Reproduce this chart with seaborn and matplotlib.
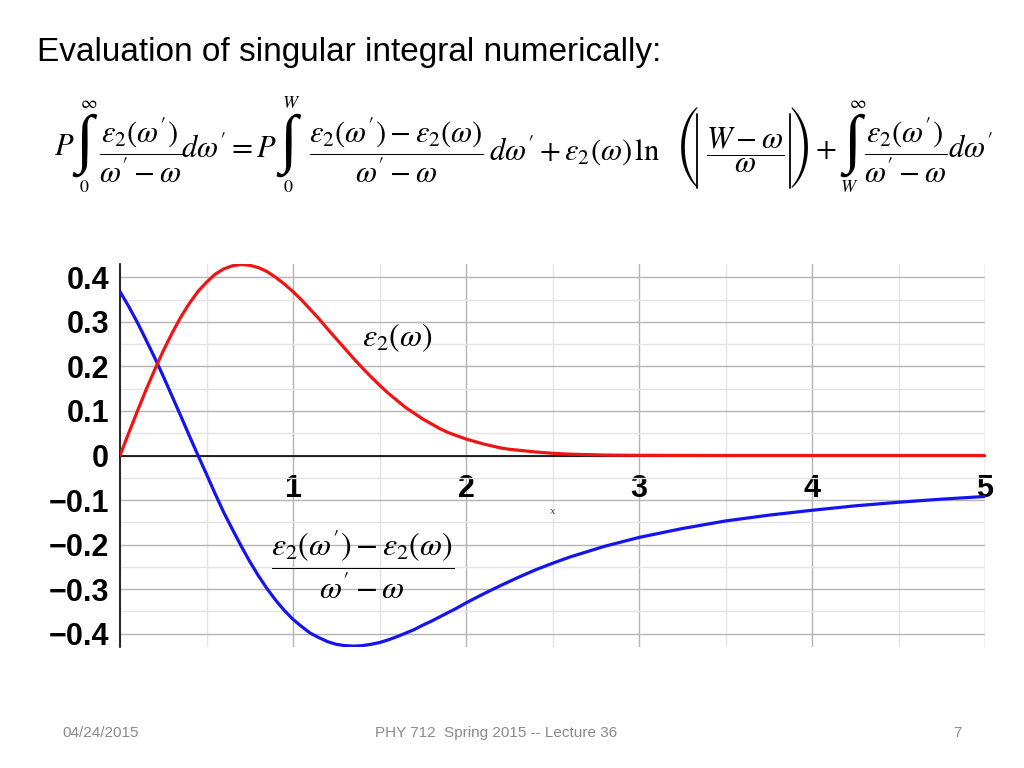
import matplotlib
matplotlib.use("Agg")
import matplotlib.pyplot as plt
import seaborn as sns
import pandas as pd
from matplotlib.ticker import MultipleLocator
from matplotlib.lines import Line2D

# ---- data ----
red_x = [0.0, 0.05, 0.1, 0.15, 0.2, 0.25, 0.3, 0.35, 0.4, 0.45, 0.5, 0.55, 0.6, 0.65,
         0.7, 0.75, 0.8, 0.85, 0.9, 0.95, 1.0, 1.05, 1.1, 1.15, 1.2, 1.25, 1.3, 1.35,
         1.4, 1.45, 1.5, 1.55, 1.6, 1.65, 1.7, 1.75, 1.8, 1.85, 1.9, 1.95, 2.0, 2.1,
         2.2, 2.25, 2.3, 2.4, 2.5, 2.6, 2.7, 2.8, 3.0, 3.5, 4.0, 4.5, 5.0]
red_y = [0.0, 0.050, 0.099, 0.147, 0.192, 0.235, 0.274, 0.310, 0.341, 0.368, 0.389,
         0.407, 0.419, 0.426, 0.429, 0.427, 0.422, 0.413, 0.400, 0.385, 0.368, 0.349,
         0.328, 0.307, 0.284, 0.262, 0.240, 0.218, 0.197, 0.177, 0.158, 0.140, 0.124,
         0.108, 0.095, 0.082, 0.071, 0.060, 0.051, 0.044, 0.037, 0.026, 0.017, 0.014,
         0.012, 0.008, 0.005, 0.003, 0.002, 0.001, 0.0004, 0.0, 0.0, 0.0, 0.0]

blue_x = [0.0, 0.05, 0.1, 0.15, 0.2, 0.25, 0.3, 0.35, 0.4, 0.45, 0.5, 0.55, 0.6, 0.65,
          0.7, 0.75, 0.8, 0.85, 0.9, 0.95, 1.0, 1.05, 1.1, 1.15, 1.2, 1.25, 1.3, 1.35,
          1.4, 1.45, 1.5, 1.55, 1.6, 1.65, 1.7, 1.75, 1.8, 1.85, 1.9, 1.95, 2.0, 2.1,
          2.2, 2.3, 2.4, 2.5, 2.6, 2.8, 3.0, 3.25, 3.5, 3.75, 4.0, 4.25, 4.5, 4.75, 5.0]
blue_y = [0.368, 0.335, 0.299, 0.260, 0.220, 0.178, 0.134, 0.090, 0.045, 0.001,
          -0.042, -0.086, -0.128, -0.166, -0.203, -0.238, -0.270, -0.299, -0.325,
          -0.348, -0.368, -0.384, -0.399, -0.409, -0.418, -0.424, -0.427, -0.428,
          -0.427, -0.424, -0.420, -0.414, -0.407, -0.399, -0.391, -0.381, -0.372,
          -0.362, -0.352, -0.342, -0.331, -0.311, -0.292, -0.274, -0.257, -0.242,
          -0.228, -0.204, -0.184, -0.164, -0.147, -0.134, -0.123, -0.113, -0.105,
          -0.098, -0.092]

x_ticks = [1, 2, 3, 4, 5]
x_tick_labels = ["1", "2", "3", "4", "5"]
y_ticks = [-0.4, -0.3, -0.2, -0.1, 0.0, 0.1, 0.2, 0.3, 0.4]
y_tick_labels = ["\u22120.4", "\u22120.3", "\u22120.2", "\u22120.1", "0", "0.1", "0.2", "0.3", "0.4"]

title_text = "Evaluation of singular integral numerically:"
footer_left = "04/24/2015"
footer_mid = "PHY 712  Spring 2015 -- Lecture 36"
footer_right = "7"

sns.set_style("white")
plt.rcParams["font.family"] = ["Liberation Sans", "DejaVu Sans"]
plt.rcParams["mathtext.fontset"] = "stix"
plt.rcParams["text.color"] = "black"

fig = plt.figure(figsize=(10.24, 7.68), dpi=100)
ax = fig.add_axes([120/1024, 1 - 647/768, (985 - 120)/1024, (647 - 264)/768])

df_red = pd.DataFrame({"x": red_x, "y": red_y})
df_blue = pd.DataFrame({"x": blue_x, "y": blue_y})
sns.lineplot(data=df_blue, x="x", y="y", ax=ax, color="#1414f0", linewidth=2.3, zorder=4)
sns.lineplot(data=df_red, x="x", y="y", ax=ax, color="#f01414", linewidth=2.3, zorder=5)

ax.set_xlim(0, 5)
ax.set_ylim(-0.43, 0.43)
ax.xaxis.set_minor_locator(MultipleLocator(0.5))
ax.yaxis.set_minor_locator(MultipleLocator(0.05))
ax.set_xticks(x_ticks)
ax.set_xticklabels(x_tick_labels)
ax.set_yticks(y_ticks)
ax.set_yticklabels(y_tick_labels)
ax.grid(which="major", color="#b4b4b4", linewidth=1.0, zorder=0)
ax.grid(which="minor", color="#e4e4e4", linewidth=1.0, zorder=0)
ax.set_axisbelow(True)

for s in ["top", "right"]:
    ax.spines[s].set_visible(False)
ax.spines["bottom"].set_position(("data", 0))
ax.spines["left"].set_position(("data", 0))
ax.spines["bottom"].set_color("black")
ax.spines["left"].set_color("black")
ax.spines["bottom"].set_linewidth(1.2)
ax.spines["left"].set_linewidth(1.2)
ax.tick_params(axis="both", which="both", length=0, colors="black")
ax.tick_params(axis="x", pad=13)
ax.tick_params(axis="y", pad=8)
for lab in ax.get_xticklabels() + ax.get_yticklabels():
    lab.set_fontsize(22)
    lab.set_fontweight("bold")
    lab.set_color("black")
ax.set_xlabel("")
ax.set_ylabel("")
ax.text(2.5, -0.125, "x", fontsize=7, style="italic", family="DejaVu Serif",
        color="#444444", ha="center", va="center")

ax.text(1.6, 0.265, r"$\varepsilon_2(\omega)$", fontsize=23, ha="center", va="center")
ax.text(1.4, -0.245, r"$\dfrac{\varepsilon_2(\omega') - \varepsilon_2(\omega)}{\omega' - \omega}$",
        fontsize=23, ha="center", va="center")

fig.text(37/1024, 1 - 52/768, title_text, fontsize=24, ha="left", va="center")

# ---- equation, composed of pieces ----
def ft(px, py, s, **kw):
    fig.text(px/1024, 1 - py/768, s, **kw)

def vbar(px, y0, y1):
    fig.add_artist(Line2D([px/1024, px/1024], [1 - y0/768, 1 - y1/768],
                          transform=fig.transFigure, color="black", linewidth=1.3))

S = 22
YC = 150
INT_KW = dict(fontsize=47, family=["Liberation Serif", "DejaVu Serif"], ha="center", va="center")
LIM = 13
ft(54, YC - 3, r"$P$", fontsize=S, ha="left", va="center")
ft(84, YC - 5, "\u222b", **INT_KW)
ft(89, 104, r"$\infty$", fontsize=LIM, ha="center", va="center")
ft(84, 188, r"$0$", fontsize=LIM, ha="center", va="center")
ft(141, YC, r"$\dfrac{\varepsilon_2(\omega')}{\omega'-\omega}$", fontsize=S, ha="center", va="center")
ft(181, YC, r"$d\omega' = P$", fontsize=S, ha="left", va="center")
ft(288, YC - 5, "\u222b", **INT_KW)
ft(291, 104, r"$W$", fontsize=LIM, ha="center", va="center")
ft(288, 188, r"$0$", fontsize=LIM, ha="center", va="center")
ft(396, YC, r"$\dfrac{\varepsilon_2(\omega')-\varepsilon_2(\omega)}{\omega'-\omega}$", fontsize=S,
   ha="center", va="center")
ft(489, YC, r"$d\omega' + \varepsilon_2(\omega)\,\mathrm{ln}$", fontsize=S, ha="left", va="center")
ft(687, YC - 3, "(", fontsize=24, family="STIXSizeThreeSym", ha="center", va="center")
vbar(697, 114, 188)
ft(745, YC, r"$\dfrac{W-\omega}{\omega}$", fontsize=S, ha="center", va="center")
vbar(790, 114, 188)
ft(801, YC - 3, ")", fontsize=24, family="STIXSizeThreeSym", ha="center", va="center")
ft(826, YC, r"$+$", fontsize=S, ha="center", va="center")
ft(852, YC - 5, "\u222b", **INT_KW)
ft(858, 104, r"$\infty$", fontsize=LIM, ha="center", va="center")
ft(849, 188, r"$W$", fontsize=LIM, ha="center", va="center")
ft(906, YC, r"$\dfrac{\varepsilon_2(\omega')}{\omega'-\omega}$", fontsize=S, ha="center", va="center")
ft(948, YC, r"$d\omega'$", fontsize=S, ha="left", va="center")

ft(62, 733, footer_left, fontsize=11, color="#8a8a8a", ha="left", va="center")
ft(375, 733, footer_mid, fontsize=11, color="#8a8a8a", ha="left", va="center")
ft(962, 733, footer_right, fontsize=11, color="#8a8a8a", ha="right", va="center")

fig.savefig("out.png", dpi=100, facecolor="white")
